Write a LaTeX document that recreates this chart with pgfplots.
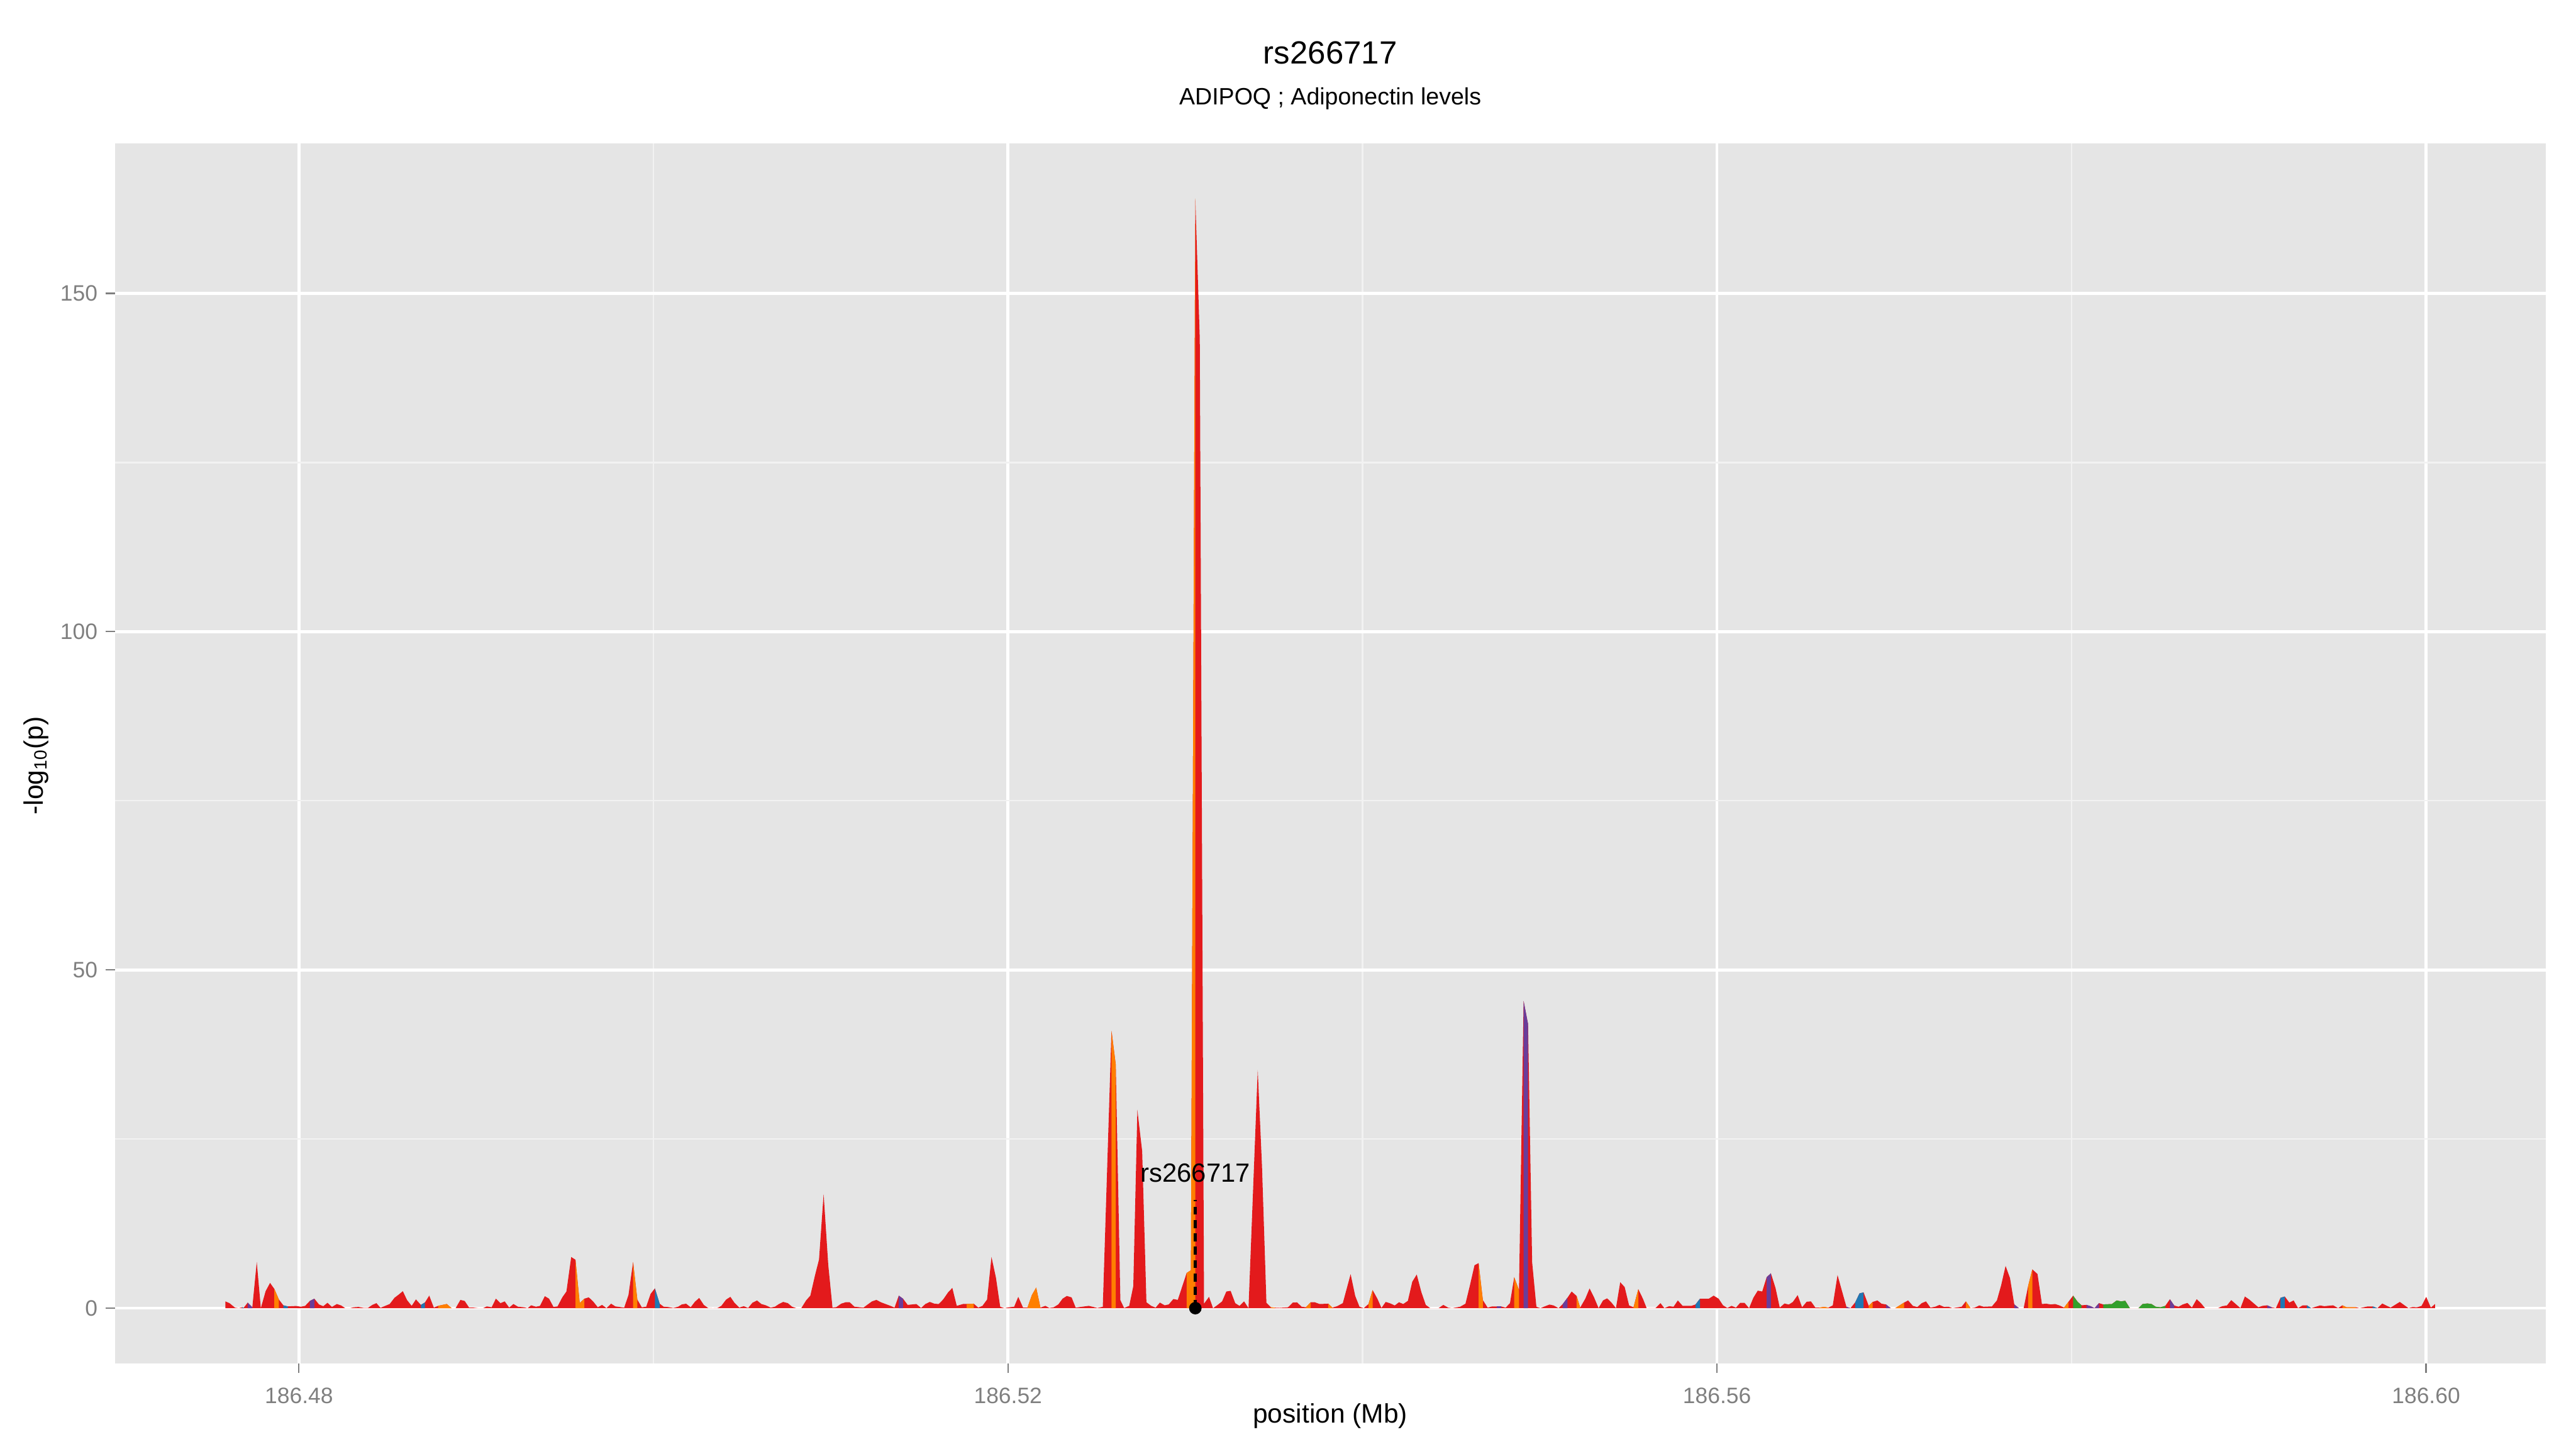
\documentclass[border=0pt]{standalone}
\usepackage{pgfplots}
\pgfplotsset{compat=1.18}
\usepackage{fontspec}
\setmainfont{Liberation Sans}
\definecolor{cred}{HTML}{E31A1C}
\definecolor{corange}{HTML}{FF7F00}
\definecolor{cpurple}{HTML}{6A3D9A}
\definecolor{cblue}{HTML}{1F78B4}
\definecolor{cgreen}{HTML}{33A02C}
\definecolor{panelgrey}{HTML}{E5E5E5}
\definecolor{gminor}{HTML}{F2F2F2}
\definecolor{tickgrey}{HTML}{7F7F7F}
\begin{document}
\begin{tikzpicture}
\path[use as bounding box] (-51.6pt,-38.3pt) rectangle (1104.7pt,612.1pt);
\begin{axis}[
 at={(0,0)}, anchor=south west,
 scale only axis, width=1091pt, height=547.8pt,
 xmin=-30.38, xmax=106.74, ymin=-8.2, ymax=172.2,
 axis background/.style={fill=panelgrey},
 axis x line*=bottom, axis y line*=left,
 axis line style={draw=none},
 grid=both,
 major grid style={white, line width=1.3pt},
 minor grid style={gminor, line width=0.6pt},
 xtick={-20,20,60,100}, xticklabels={186.48,186.52,186.56,186.60},
 minor xtick={0,40,80},
 ytick={0,50,100,150}, yticklabels={0,50,100,150},
 minor ytick={25,75,125},
 tick align=outside, major tick length=4.3pt, minor tick length=0pt,
 tick style={tickgrey, line width=0.6pt},
 xticklabel style={font=\fontsize{10}{12}\selectfont, text=tickgrey, yshift=-3pt},
 yticklabel style={font=\fontsize{10}{12}\selectfont, text=tickgrey},
 xlabel={position (Mb)},
 ylabel={-log\textsubscript{10}(p)},
 every axis x label/.style={at={(axis description cs:0.5,-0.0431)}, anchor=center, font=\fontsize{12}{14}\selectfont},
 every axis y label/.style={at={(axis description cs:-0.0324,0.49)}, rotate=90, anchor=center, font=\fontsize{12}{14}\selectfont},
 clip=true,
]
\addplot[fill=cred, draw=none] table {
-24.15 0
-24.15 1.00
-23.92 0.74
-23.61 0.08
-23.40 0
-23.20 0.13
-23.11 0.08
-22.89 0.82
-22.63 0.13
-22.38 6.82
-22.15 0
-21.88 2.51
-21.63 3.73
-21.39 2.85
-21.13 1.27
-20.88 0.42
-20.63 0.26
-20.16 0.32
-19.89 0.21
-19.65 0.34
-19.39 1.06
-19.13 1.40
-18.87 0.55
-18.63 0.29
-18.39 0.79
-18.14 0.18
-17.86 0.61
-17.62 0.40
-17.39 0
-17.12 0
-16.91 0.13
-16.64 0.18
-16.37 0.05
-16.10 0.05
-15.86 0.48
-15.63 0.74
-15.40 0.05
-15.13 0.34
-14.88 0.61
-14.61 1.53
-14.37 2.01
-14.14 2.51
-13.90 1.19
-13.64 0.34
-13.40 1.29
-13.12 0.48
-12.89 0.85
-12.65 1.85
-12.39 0.08
-12.15 0.34
-11.66 0.61
-11.39 0
-11.16 0
-10.89 1.22
-10.65 1.06
-10.40 0.08
-10.15 0.08
-9.88 0
-9.61 0
-9.40 0.26
-9.13 0.13
-8.89 1.40
-8.63 0.74
-8.39 1.00
-8.14 0.08
-7.90 0.61
-7.64 0.21
-7.30 0.13
-7.10 0
-6.90 0.42
-6.63 0.21
-6.40 0.34
-6.13 1.77
-5.89 1.40
-5.64 0.18
-5.41 0.26
-5.14 1.61
-4.91 2.46
-4.64 7.56
-4.40 7.16
-4.16 0.74
-3.90 1.40
-3.66 1.59
-3.54 1.35
-3.38 0.92
-3.14 0.13
-2.90 0.48
-2.65 0
-2.39 0.66
-2.15 0.26
-1.65 0.08
-1.41 1.93
-1.15 6.82
-0.91 1.27
-0.66 0.13
-0.41 0.21
-0.16 2.11
0.08 2.93
0.35 0.66
0.58 0.21
0.85 0.16
1.12 0.03
1.39 0.21
1.60 0.55
1.84 0.66
2.10 0.13
2.34 0.95
2.58 1.51
2.84 0.48
3.08 0.03
3.35 0
3.62 0.03
3.83 0.34
4.10 1.27
4.34 1.67
4.57 0.79
4.84 0.08
5.09 0.29
5.34 0.03
5.58 0.79
5.84 1.14
6.09 0.61
6.34 0.42
6.61 0.08
6.85 0.21
7.08 0.61
7.32 0.92
7.58 0.74
7.82 0.21
8.06 0
8.34 0
8.61 1.14
8.85 1.85
9.11 4.81
9.34 7.19
9.60 16.86
9.86 6.42
10.10 0.08
10.32 0.16
10.59 0.66
10.84 0.87
11.07 0.87
11.34 0.21
11.85 0.08
12.09 0.55
12.33 1.00
12.58 1.22
12.83 0.87
13.37 0.34
13.60 0.08
13.84 1.85
14.08 1.40
14.34 0.48
14.83 0.61
15.10 0.03
15.34 0.61
15.59 0.92
15.85 0.66
16.09 0.61
16.34 1.27
16.62 2.33
16.86 2.99
17.11 0.34
17.46 0.61
17.67 0.61
18.07 0.66
18.32 0.08
18.56 0.34
18.82 1.27
19.07 7.56
19.32 4.52
19.56 0.21
19.80 0
20.07 0.13
20.35 0.21
20.58 1.67
20.85 0.08
21.10 0.08
21.35 1.93
21.59 3.04
21.83 0.08
22.11 0.34
22.33 0.03
22.58 0.13
22.84 0.55
23.08 1.40
23.32 1.80
23.59 1.59
23.82 0.08
24.56 0.34
25.04 0.03
25.35 0.21
25.84 41.0
26.08 36.0
26.34 1.19
26.55 0.03
26.84 0.34
27.07 3.25
27.30 29.3
27.57 23.2
27.81 0.87
28.08 0.34
28.33 0.08
28.57 0.82
28.84 0.42
29.07 0.55
29.33 1.35
29.58 1.22
30.08 5.2
30.32 5.6
30.57 164.0
30.82 143.3
31.06 0.66
31.34 1.67
31.57 0
31.80 0.42
32.08 1.00
32.32 2.46
32.56 2.56
32.82 0.74
33.06 0.34
33.32 1.00
33.57 0
34.09 35.2
34.33 21.0
34.58 0.8
34.83 0.13
35.05 0.08
35.32 0.05
35.80 0.13
36.07 0.82
36.31 0.85
36.57 0.21
36.81 0.13
37.08 0.87
37.31 0.87
37.58 0.61
38.07 0.66
38.30 0.08
38.57 0.29
38.89 0.74
39.33 5.02
39.59 1.80
39.83 0.21
40.07 0
40.34 0.61
40.57 2.67
40.84 1.40
41.07 0.03
41.31 0.92
41.56 0.71
41.82 0.40
42.06 0.87
42.30 0.61
42.56 1.08
42.81 3.91
43.06 4.97
43.32 2.38
43.57 0.48
43.82 0
44.29 0
44.56 0.48
44.83 0.08
45.06 0
45.51 0.21
45.81 0.66
46.05 3.25
46.32 6.34
46.55 6.66
46.79 1.19
47.06 0.08
47.32 0.26
47.57 0.26
47.81 0.26
48.08 0.08
48.32 0.74
48.56 4.57
48.83 2.67
49.09 45.4
49.34 42.0
49.57 6.8
49.81 0.21
50.04 0
50.31 0.29
50.55 0.53
50.78 0.40
51.06 0
51.30 0.61
51.56 1.53
51.80 2.46
52.08 1.80
52.28 0.08
52.57 1.40
52.81 2.91
53.06 1.61
53.32 0
53.57 1.14
53.80 1.45
54.03 0.87
54.30 0
54.54 3.83
54.79 3.12
55.04 0.40
55.29 0.13
55.56 2.80
55.82 1.40
56.03 0
56.54 0.03
56.81 0.74
57.03 0
57.30 0.29
57.55 0.21
57.79 1.14
58.06 0.34
58.56 0.34
58.79 0.55
59.04 1.40
59.54 1.40
59.81 1.85
60.09 1.40
60.34 0.42
60.58 0.03
60.82 0.34
61.07 0.08
61.31 0.79
61.55 0.79
61.81 0
62.05 1.53
62.30 2.59
62.55 2.46
62.80 4.57
63.04 5.15
63.30 2.99
63.54 0.08
63.81 0.69
64.05 0.53
64.28 0.92
64.55 1.93
64.80 0.13
65.06 0.95
65.30 1.00
65.55 0.08
65.77 0.08
66.04 0.18
66.28 0.08
66.53 0.40
66.80 4.89
67.03 2.72
67.30 0.21
67.53 0
67.80 0.87
68.04 2.19
68.27 2.33
68.56 0.34
68.78 0.92
69.05 1.14
69.28 0.66
69.53 0.55
69.80 0
70.06 0
70.55 0.82
70.78 1.14
71.05 0.34
71.30 0.16
71.55 0.74
71.79 1.00
72.04 0.08
72.31 0.21
72.55 0.48
72.81 0.18
73.06 0.21
73.28 0
73.80 0.21
74.04 1.00
74.30 0
74.54 0.08
74.80 0.40
75.04 0.21
75.51 0.26
75.79 1.14
76.03 3.38
76.28 6.24
76.53 4.44
76.77 0.55
77.03 0
77.30 0
77.55 3.25
77.79 5.73
78.08 5.05
78.33 0.61
78.57 0.66
78.83 0.55
79.08 0.61
79.32 0.40
79.58 0.08
79.83 0.95
80.09 1.85
80.34 0.95
80.56 0.42
80.84 0.48
81.08 0.29
81.30 0
81.55 0.74
81.79 0.55
82.28 0.61
82.55 1.14
82.79 1.00
83.03 1.09
83.29 0
83.78 0
84.01 0.61
84.28 0.69
84.51 0.61
84.75 0.21
85.02 0.13
85.29 0.34
85.55 1.32
85.79 0.40
86.04 0.21
86.28 0.55
86.54 0.77
86.79 0.08
87.06 1.32
87.30 0.74
87.53 0
88.27 0
88.50 0.29
88.77 0.40
89.01 1.19
89.53 0
89.78 1.72
90.03 1.27
90.54 0.13
90.77 0.34
91.04 0.42
91.29 0.13
91.53 0
91.79 1.53
92.03 1.72
92.29 0.82
92.53 1.14
92.78 0
93.03 0.40
93.28 0.42
93.52 0
94.02 0.40
94.26 0.29
94.76 0.42
95.04 0
95.28 0.42
95.51 0.13
96.05 0.13
96.25 0
96.72 0.26
96.99 0.26
97.26 0
97.53 0.69
98.00 0.08
98.52 0.92
99.01 0
99.23 0.16
99.50 0.13
99.75 0.34
100.01 1.67
100.27 0.08
100.51 0.61
100.51 0
} \closedcycle;
% orange segments
\addplot[fill=corange, draw=none] coordinates {(-21.39,2.85) (-21.13,1.27)} \closedcycle;
\addplot[fill=corange, draw=none] coordinates {(-12.15,0.34) (-11.66,0.61) (-11.39,0)} \closedcycle;
\addplot[fill=corange, draw=none] coordinates {(-4.40,7.16) (-4.16,0.74) (-3.90,1.40)} \closedcycle;
\addplot[fill=corange, draw=none] coordinates {(-1.15,6.82) (-0.91,1.27)} \closedcycle;
\addplot[fill=corange, draw=none] coordinates {(17.67,0.61) (18.07,0.66)} \closedcycle;
\addplot[fill=corange, draw=none] coordinates {(21.10,0.08) (21.35,1.93) (21.59,3.04) (21.83,0.08)} \closedcycle;
\addplot[fill=corange, draw=none] coordinates {(25.84,41.0) (26.08,36.0)} \closedcycle;
\addplot[fill=corange, draw=none] coordinates {(30.08,5.2) (30.32,5.6) (30.57,164.0)} \closedcycle;
\addplot[fill=corange, draw=none] coordinates {(34.83,0.13) (35.05,0.08)} \closedcycle;
\addplot[fill=corange, draw=none] coordinates {(36.81,0.13) (37.08,0.87)} \closedcycle;
\addplot[fill=corange, draw=none] coordinates {(38.07,0.66) (38.30,0.08)} \closedcycle;
\addplot[fill=corange, draw=none] coordinates {(40.34,0.61) (40.57,2.67)} \closedcycle;
\addplot[fill=corange, draw=none] coordinates {(46.55,6.66) (46.79,1.19)} \closedcycle;
\addplot[fill=corange, draw=none] coordinates {(48.56,4.57) (48.83,2.67)} \closedcycle;
\addplot[fill=corange, draw=none] coordinates {(52.08,1.80) (52.28,0.08)} \closedcycle;
\addplot[fill=corange, draw=none] coordinates {(55.29,0.13) (55.56,2.80)} \closedcycle;
\addplot[fill=corange, draw=none] coordinates {(65.77,0.08) (66.04,0.18) (66.28,0.08)} \closedcycle;
\addplot[fill=corange, draw=none] coordinates {(68.56,0.34) (68.78,0.92)} \closedcycle;
\addplot[fill=corange, draw=none] coordinates {(70.06,0) (70.55,0.82)} \closedcycle;
\addplot[fill=corange, draw=none] coordinates {(74.04,1.00) (74.30,0)} \closedcycle;
\addplot[fill=corange, draw=none] coordinates {(77.55,3.25) (77.79,5.73)} \closedcycle;
\addplot[fill=corange, draw=none] coordinates {(79.58,0.08) (79.83,0.95)} \closedcycle;
\addplot[fill=corange, draw=none] coordinates {(95.28,0.42) (95.51,0.13) (96.05,0.13)} \closedcycle;
% purple segments
\addplot[fill=cpurple, draw=none] coordinates {(-22.89,0.82) (-22.63,0.13)} \closedcycle;
\addplot[fill=cpurple, draw=none] coordinates {(-19.39,1.06) (-19.13,1.40)} \closedcycle;
\addplot[fill=cpurple, draw=none] coordinates {(13.84,1.85) (14.08,1.40)} \closedcycle;
\addplot[fill=cpurple, draw=none] coordinates {(47.57,0.26) (47.81,0.26)} \closedcycle;
\addplot[fill=cpurple, draw=none] coordinates {(49.09,45.4) (49.34,42.0)} \closedcycle;
\addplot[fill=cpurple, draw=none] coordinates {(51.30,0.61) (51.56,1.53)} \closedcycle;
\addplot[fill=cpurple, draw=none] coordinates {(62.80,4.57) (63.04,5.15)} \closedcycle;
\addplot[fill=cpurple, draw=none] coordinates {(67.30,0.21) (67.53,0)} \closedcycle;
\addplot[fill=cpurple, draw=none] coordinates {(69.53,0.55) (69.80,0)} \closedcycle;
\addplot[fill=cpurple, draw=none] coordinates {(76.77,0.55) (77.03,0)} \closedcycle;
\addplot[fill=cpurple, draw=none] coordinates {(80.84,0.48) (81.08,0.29) (81.30,0) (81.55,0.74)} \closedcycle;
\addplot[fill=cpurple, draw=none] coordinates {(85.55,1.32) (85.79,0.40)} \closedcycle;
\addplot[fill=cpurple, draw=none] coordinates {(91.04,0.42) (91.29,0.13)} \closedcycle;
% blue segments
\addplot[fill=cblue, draw=none] coordinates {(-23.20,0.13) (-23.11,0.08)} \closedcycle;
\addplot[fill=cblue, draw=none] coordinates {(-20.88,0.42) (-20.63,0.26)} \closedcycle;
\addplot[fill=cblue, draw=none] coordinates {(-13.12,0.48) (-12.89,0.85)} \closedcycle;
\addplot[fill=cblue, draw=none] coordinates {(0.08,2.93) (0.35,0.66)} \closedcycle;
\addplot[fill=cblue, draw=none] coordinates {(58.79,0.55) (59.04,1.40)} \closedcycle;
\addplot[fill=cblue, draw=none] coordinates {(67.80,0.87) (68.04,2.19) (68.27,2.33)} \closedcycle;
\addplot[fill=cblue, draw=none] coordinates {(91.79,1.53) (92.03,1.72)} \closedcycle;
\addplot[fill=cblue, draw=none] coordinates {(93.28,0.42) (93.52,0)} \closedcycle;
\addplot[fill=cblue, draw=none] coordinates {(96.99,0.26) (97.26,0)} \closedcycle;
% green segments
\addplot[fill=cgreen, draw=none] coordinates {(80.09,1.85) (80.34,0.95) (80.56,0.42)} \closedcycle;
\addplot[fill=cgreen, draw=none] coordinates {(81.79,0.55) (82.28,0.61) (82.55,1.14) (82.79,1.00) (83.03,1.09) (83.29,0)} \closedcycle;
\addplot[fill=cgreen, draw=none] coordinates {(83.78,0) (84.01,0.61) (84.28,0.69) (84.51,0.61) (84.75,0.21) (85.02,0.13) (85.29,0.34)} \closedcycle;
% index SNP
\addplot[black, line width=1.6pt, dash pattern=on 3.6pt off 2.4pt] coordinates {(30.57,0) (30.57,16)};
\addplot[only marks, mark=*, mark size=2.6pt, black] coordinates {(30.57,0)};
\node[font=\fontsize{11.8}{14}\selectfont, anchor=center] at (axis cs:30.57,20) {rs266717};
\end{axis}
\node[font=\fontsize{14.4}{17}\selectfont, anchor=center] at (545.5pt,588.5pt) {rs266717};
\node[font=\fontsize{10.6}{12}\selectfont, anchor=center] at (545.5pt,567.7pt) {ADIPOQ ; Adiponectin levels};
\end{tikzpicture}
\end{document}
